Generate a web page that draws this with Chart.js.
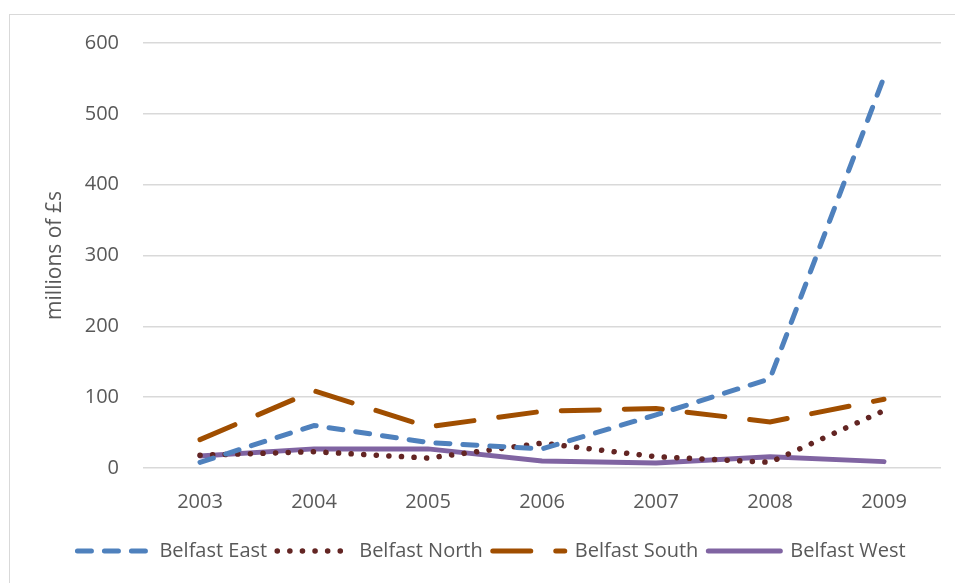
<!DOCTYPE html>
<html>
<head>
<meta charset="utf-8">
<script src="https://cdn.jsdelivr.net/npm/chart.js@4"></script>
<style>
  html, body { margin: 0; padding: 0; background: #fff; }
  #wrap { position: relative; width: 955px; height: 583px; overflow: hidden; }
  #frame { position: absolute; left: 9px; top: 14px; width: 1000px; height: 1000px; border: 1.5px solid #d9d9d9; box-sizing: border-box; }
  canvas { position: absolute; left: 0; top: 0; }
</style>
</head>
<body>
<div id="wrap">
  <div id="frame"></div>
  <canvas id="chart" width="955" height="583"></canvas>
</div>
<script>
const years = ['2003', '2004', '2005', '2006', '2007', '2008', '2009'];
const belfastEast  = [8, 60, 36, 27, 75, 126, 552];
const belfastNorth = [18, 23, 14, 35, 16, 8, 81];
const belfastSouth = [40, 109, 58, 80, 84, 65, 97];
const belfastWest  = [17, 27, 27, 10, 7, 16, 9];
const yTicks = [0, 100, 200, 300, 400, 500, 600];

const font = "'Open Sans', 'Liberation Sans', sans-serif";
const grey = '#595959';

const ctx = document.getElementById('chart').getContext('2d');
new Chart(ctx, {
    type: 'line',
    data: {
        labels: years,
        datasets: [{
            label: 'Belfast East',
            data: belfastEast,
            borderColor: '#4f81bd',
            backgroundColor: '#4f81bd',
            borderWidth: 5,
            borderDash: [14, 13],
            borderCapStyle: 'round'
        }, {
            label: 'Belfast North',
            data: belfastNorth,
            borderColor: '#632523',
            backgroundColor: '#632523',
            borderWidth: 5.5,
            borderDash: [0.1, 12.5],
            borderCapStyle: 'round'
        }, {
            label: 'Belfast South',
            data: belfastSouth,
            borderColor: '#a04e00',
            backgroundColor: '#a04e00',
            borderWidth: 5,
            borderDash: [38, 25],
            borderCapStyle: 'round'
        }, {
            label: 'Belfast West',
            data: belfastWest,
            borderColor: '#8064a2',
            backgroundColor: '#8064a2',
            borderWidth: 5,
            borderCapStyle: 'round'
        }]
    },
    options: {
        responsive: false,
        animation: false,
        layout: { padding: { top: 43, right: 14, bottom: 12, left: 42 } },
        elements: {
            point: { radius: 0 },
            line: { tension: 0 }
        },
        scales: {
            x: {
                offset: true,
                grid: { display: false, offset: true },
                border: { display: false },
                ticks: { color: grey, font: { family: font, size: 20 }, padding: 14 },
                afterFit: scale => { scale.height = 63; }
            },
            y: {
                min: 0,
                max: 600,
                afterBuildTicks: scale => { scale.ticks = yTicks.map(v => ({ value: v })); },
                grid: { color: '#d9d9d9', lineWidth: 1.5, drawTicks: false },
                border: { display: false },
                ticks: { color: grey, font: { family: font, size: 20 }, padding: 24 },
                title: {
                    display: true,
                    text: 'millions of £s',
                    color: grey,
                    font: { family: font, size: 21 },
                    padding: 0
                },
                afterFit: scale => { scale.width = 101; }
            }
        },
        plugins: {
            legend: {
                position: 'bottom',
                labels: {
                    usePointStyle: true,
                    pointStyle: 'line',
                    pointStyleWidth: 72,
                    color: grey,
                    font: { family: font, size: 20 },
                    padding: 10,
                    generateLabels: chart => {
                        const items = Chart.defaults.plugins.legend.labels.generateLabels(chart);
                        items.forEach(item => {
                            const ds = chart.data.datasets[item.datasetIndex];
                            item.lineDash = ds.borderDash || [];
                            item.lineCap = 'round';
                            item.lineWidth = ds.borderWidth;
                            item.strokeStyle = ds.borderColor;
                            item.pointStyle = 'line';
                        });
                        return items;
                    }
                }
            },
            tooltip: { enabled: false }
        }
    }
});
</script>
</body>
</html>
